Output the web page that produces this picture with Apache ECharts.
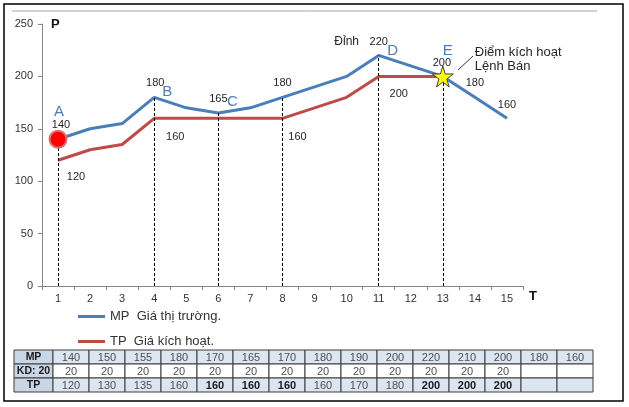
<!doctype html>
<html>
<head>
<meta charset="utf-8">
<title>MP / TP</title>
<style>
  html, body { margin: 0; padding: 0; background: #fff; }
  #container { width: 629px; height: 407px; }
</style>
</head>
<body>
<div id="container"></div>
<script src="https://cdn.jsdelivr.net/npm/echarts@6/dist/echarts.min.js"></script>
<script>
// periods on the T axis
const cats = ['1','2','3','4','5','6','7','8','9','10','11','12','13','14','15'];
// MP: market price, TP: trigger price, KD: distance
const mpVals = [140,150,155,180,170,165,170,180,190,200,220,210,200,180,160];
const tpVals = [120,130,135,160,160,160,160,160,170,180,200,200,200];
const kdVals = [20,20,20,20,20,20,20,20,20,20,20,20,20];
const rowNames = ['MP','KD: 20','TP'];
const yTicks = [0,50,100,150,200,250];

// points that get a dashed drop line and a letter
const dropIdx = [0,3,5,7,10,12];
const pointTags = ['A','','','B','','C','','','','','D','','E','',''];
const mpLabelIdx = [0,3,5,7,10,12,13,14];
const tpLabelIdx = [0,3,7,10];
const tpBoldIdx = [4,5,6,10,11,12];

const BLUE = '#4a7ebb', RED = '#be4b48';
const FONT = 'Liberation Sans, Arial, sans-serif';

// label offsets (px)
const mpOff = {0:[3,-14],3:[1,-14],5:[0,-14],7:[0,-14],10:[0,-13],12:[-1,-13],13:[0,-14],14:[0,-13]};
const tagOff = {0:[1,-27],3:[13,-6],5:[14,-11],10:[14,-5],12:[5,-26]};
const tpOff = {0:[18,17],3:[21,19],7:[15,19],10:[20,18]};

function note(i, val, text, off, extra) {
  return {
    coord: [cats[i], val],
    symbol: 'circle',
    symbolSize: 0,
    label: Object.assign({
      show: true, formatter: text, offset: off,
      color: '#262626', fontSize: 11, fontFamily: FONT
    }, extra || {})
  };
}

const mpNotes = [];
mpLabelIdx.forEach(i => mpNotes.push(note(i, mpVals[i], String(mpVals[i]), mpOff[i])));
pointTags.forEach((t, i) => {
  if (t) mpNotes.push(note(i, mpVals[i], t, tagOff[i], {color: BLUE, fontSize: 15}));
});
mpNotes.push(note(10, mpVals[10], 'Đỉnh', [-32,-14], {fontSize: 12}));
mpNotes.push(note(12, mpVals[12], 'Điểm kích hoạt\nLệnh Bán', [32,-17],
  {fontSize: 13, align: 'left', lineHeight: 14}));
// red dot at A, star at E
mpNotes.push({
  coord: [cats[0], mpVals[0]], symbol: 'circle', symbolSize: 17,
  itemStyle: {color: '#ff0000', borderColor: '#d9706e', borderWidth: 2},
  label: {show: false}
});
mpNotes.push({
  coord: [cats[12], mpVals[12]], symbolSize: 21,
  symbol: 'path://M50,0 L61,35 L98,35 L68,57 L79,91 L50,70 L21,91 L32,57 L2,35 L39,35 Z',
  itemStyle: {color: '#ffff00', borderColor: '#404040', borderWidth: 1},
  label: {show: false}
});

const tpNotes = tpLabelIdx.map(i => note(i, tpVals[i], String(tpVals[i]), tpOff[i]));

const drops = dropIdx.map(i => [{coord: [cats[i], 0]}, {coord: [cats[i], mpVals[i]]}]);

// table cells: column 0 is the row header
const cells = [];
const rowsData = [mpVals, kdVals, tpVals];
rowNames.forEach((name, r) => {
  cells.push({value: [0, r], text: name, head: true, bold: true});
  cats.forEach((c, i) => {
    const v = rowsData[r][i];
    cells.push({
      value: [i + 1, r],
      text: v == null ? '' : String(v),
      bold: r === 2 && tpBoldIdx.indexOf(i) >= 0
    });
  });
});

const chart = echarts.init(document.getElementById('container'));

chart.setOption({
  animation: false,
  textStyle: {fontFamily: FONT},
  grid: [
    {left: 42, right: 106, top: 24, bottom: 121},
    {left: 17, right: 36, top: 350, height: 42}
  ],
  legend: {
    orient: 'vertical',
    left: 73, top: 305,
    itemWidth: 27, itemHeight: 3, itemGap: 12,
    icon: 'rect',
    textStyle: {fontSize: 13, color: '#333', fontFamily: FONT},
    data: ['MP  Giá thị trường.', 'TP  Giá kích hoạt.']
  },
  xAxis: [{
    type: 'category', data: cats, gridIndex: 0,
    name: 'T', nameLocation: 'end', nameGap: 6,
    nameTextStyle: {fontSize: 13, fontWeight: 'bold', color: '#111', verticalAlign: 'top', padding: [4,0,0,0]},
    axisLine: {lineStyle: {color: '#868686', width: 1}},
    axisTick: {show: true, length: 4, lineStyle: {color: '#868686'}},
    axisLabel: {color: '#333', fontSize: 11, margin: 7}
  }, {
    type: 'category', gridIndex: 1, show: false,
    data: [''].concat(cats)
  }],
  yAxis: [{
    type: 'value', gridIndex: 0, min: 0, max: 250, interval: 50,
    name: 'P', nameLocation: 'end', nameGap: 0,
    nameTextStyle: {fontSize: 13, fontWeight: 'bold', color: '#111', align: 'left', verticalAlign: 'middle', padding: [0,0,0,9]},
    axisLine: {show: true, lineStyle: {color: '#868686', width: 1}},
    axisTick: {show: true, length: 4, lineStyle: {color: '#868686'}},
    axisLabel: {color: '#333', fontSize: 11, margin: 9,
      formatter: v => yTicks.indexOf(v) >= 0 ? String(v) : ''},
    splitLine: {show: false}
  }, {
    type: 'category', gridIndex: 1, show: false, inverse: true,
    data: rowNames
  }],
  graphic: [
    {type: 'rect', shape: {x: 4, y: 4, width: 619, height: 397},
     style: {fill: 'none', stroke: '#000', lineWidth: 1.5}, z: 0},
    {type: 'line', shape: {x1: 12, y1: 11, x2: 597, y2: 11},
     style: {stroke: '#a6a6a6', lineWidth: 1}},
    {type: 'line', shape: {x1: 458, y1: 70, x2: 473, y2: 56},
     style: {stroke: '#333', lineWidth: 1}, z: 100}
  ],
  series: [{
    name: 'MP  Giá thị trường.',
    type: 'line', xAxisIndex: 0, yAxisIndex: 0,
    data: mpVals, symbol: 'none', color: BLUE,
    lineStyle: {width: 3, color: BLUE},
    markLine: {
      silent: true, symbol: 'none', label: {show: false},
      lineStyle: {color: '#000', width: 1, type: [3, 2]},
      data: drops
    },
    markPoint: {silent: true, data: mpNotes},
    z: 3
  }, {
    name: 'TP  Giá kích hoạt.',
    type: 'line', xAxisIndex: 0, yAxisIndex: 0,
    data: tpVals, symbol: 'none', color: RED,
    lineStyle: {width: 3, color: RED},
    markPoint: {silent: true, data: tpNotes},
    z: 2
  }, {
    type: 'custom', xAxisIndex: 1, yAxisIndex: 1,
    data: cells.map(c => c.value),
    renderItem: function (params, api) {
      const cell = cells[params.dataIndex];
      const p = api.coord([api.value(0), api.value(1)]);
      const s = api.size([1, 1]);
      const row = api.value(1);
      let fill = row === 1 ? '#ffffff' : '#dce6f2';
      // header column is a bit wider
      let extra = 0;
      if (cell.head) { fill = '#c9d6e6'; extra = 3; }
      return {
        type: 'group',
        children: [{
          type: 'rect',
          shape: {x: p[0] - s[0] / 2 - extra, y: p[1] - s[1] / 2, width: s[0] + extra, height: s[1]},
          style: {fill: fill, stroke: '#3c3c3c', lineWidth: 1}
        }, {
          type: 'text',
          style: {
            text: cell.text, x: p[0] - extra / 2, y: p[1] + 0.5,
            align: 'center', verticalAlign: 'middle',
            fill: cell.bold ? '#1a1a1a' : '#4d4d4d',
            font: (cell.bold ? 'bold ' : '') + (cell.head ? '10.5px' : '11px') +
              ' "Liberation Sans Narrow", "Liberation Sans", Arial, sans-serif'
          }
        }]
      };
    }
  }]
});
</script>
</body>
</html>
